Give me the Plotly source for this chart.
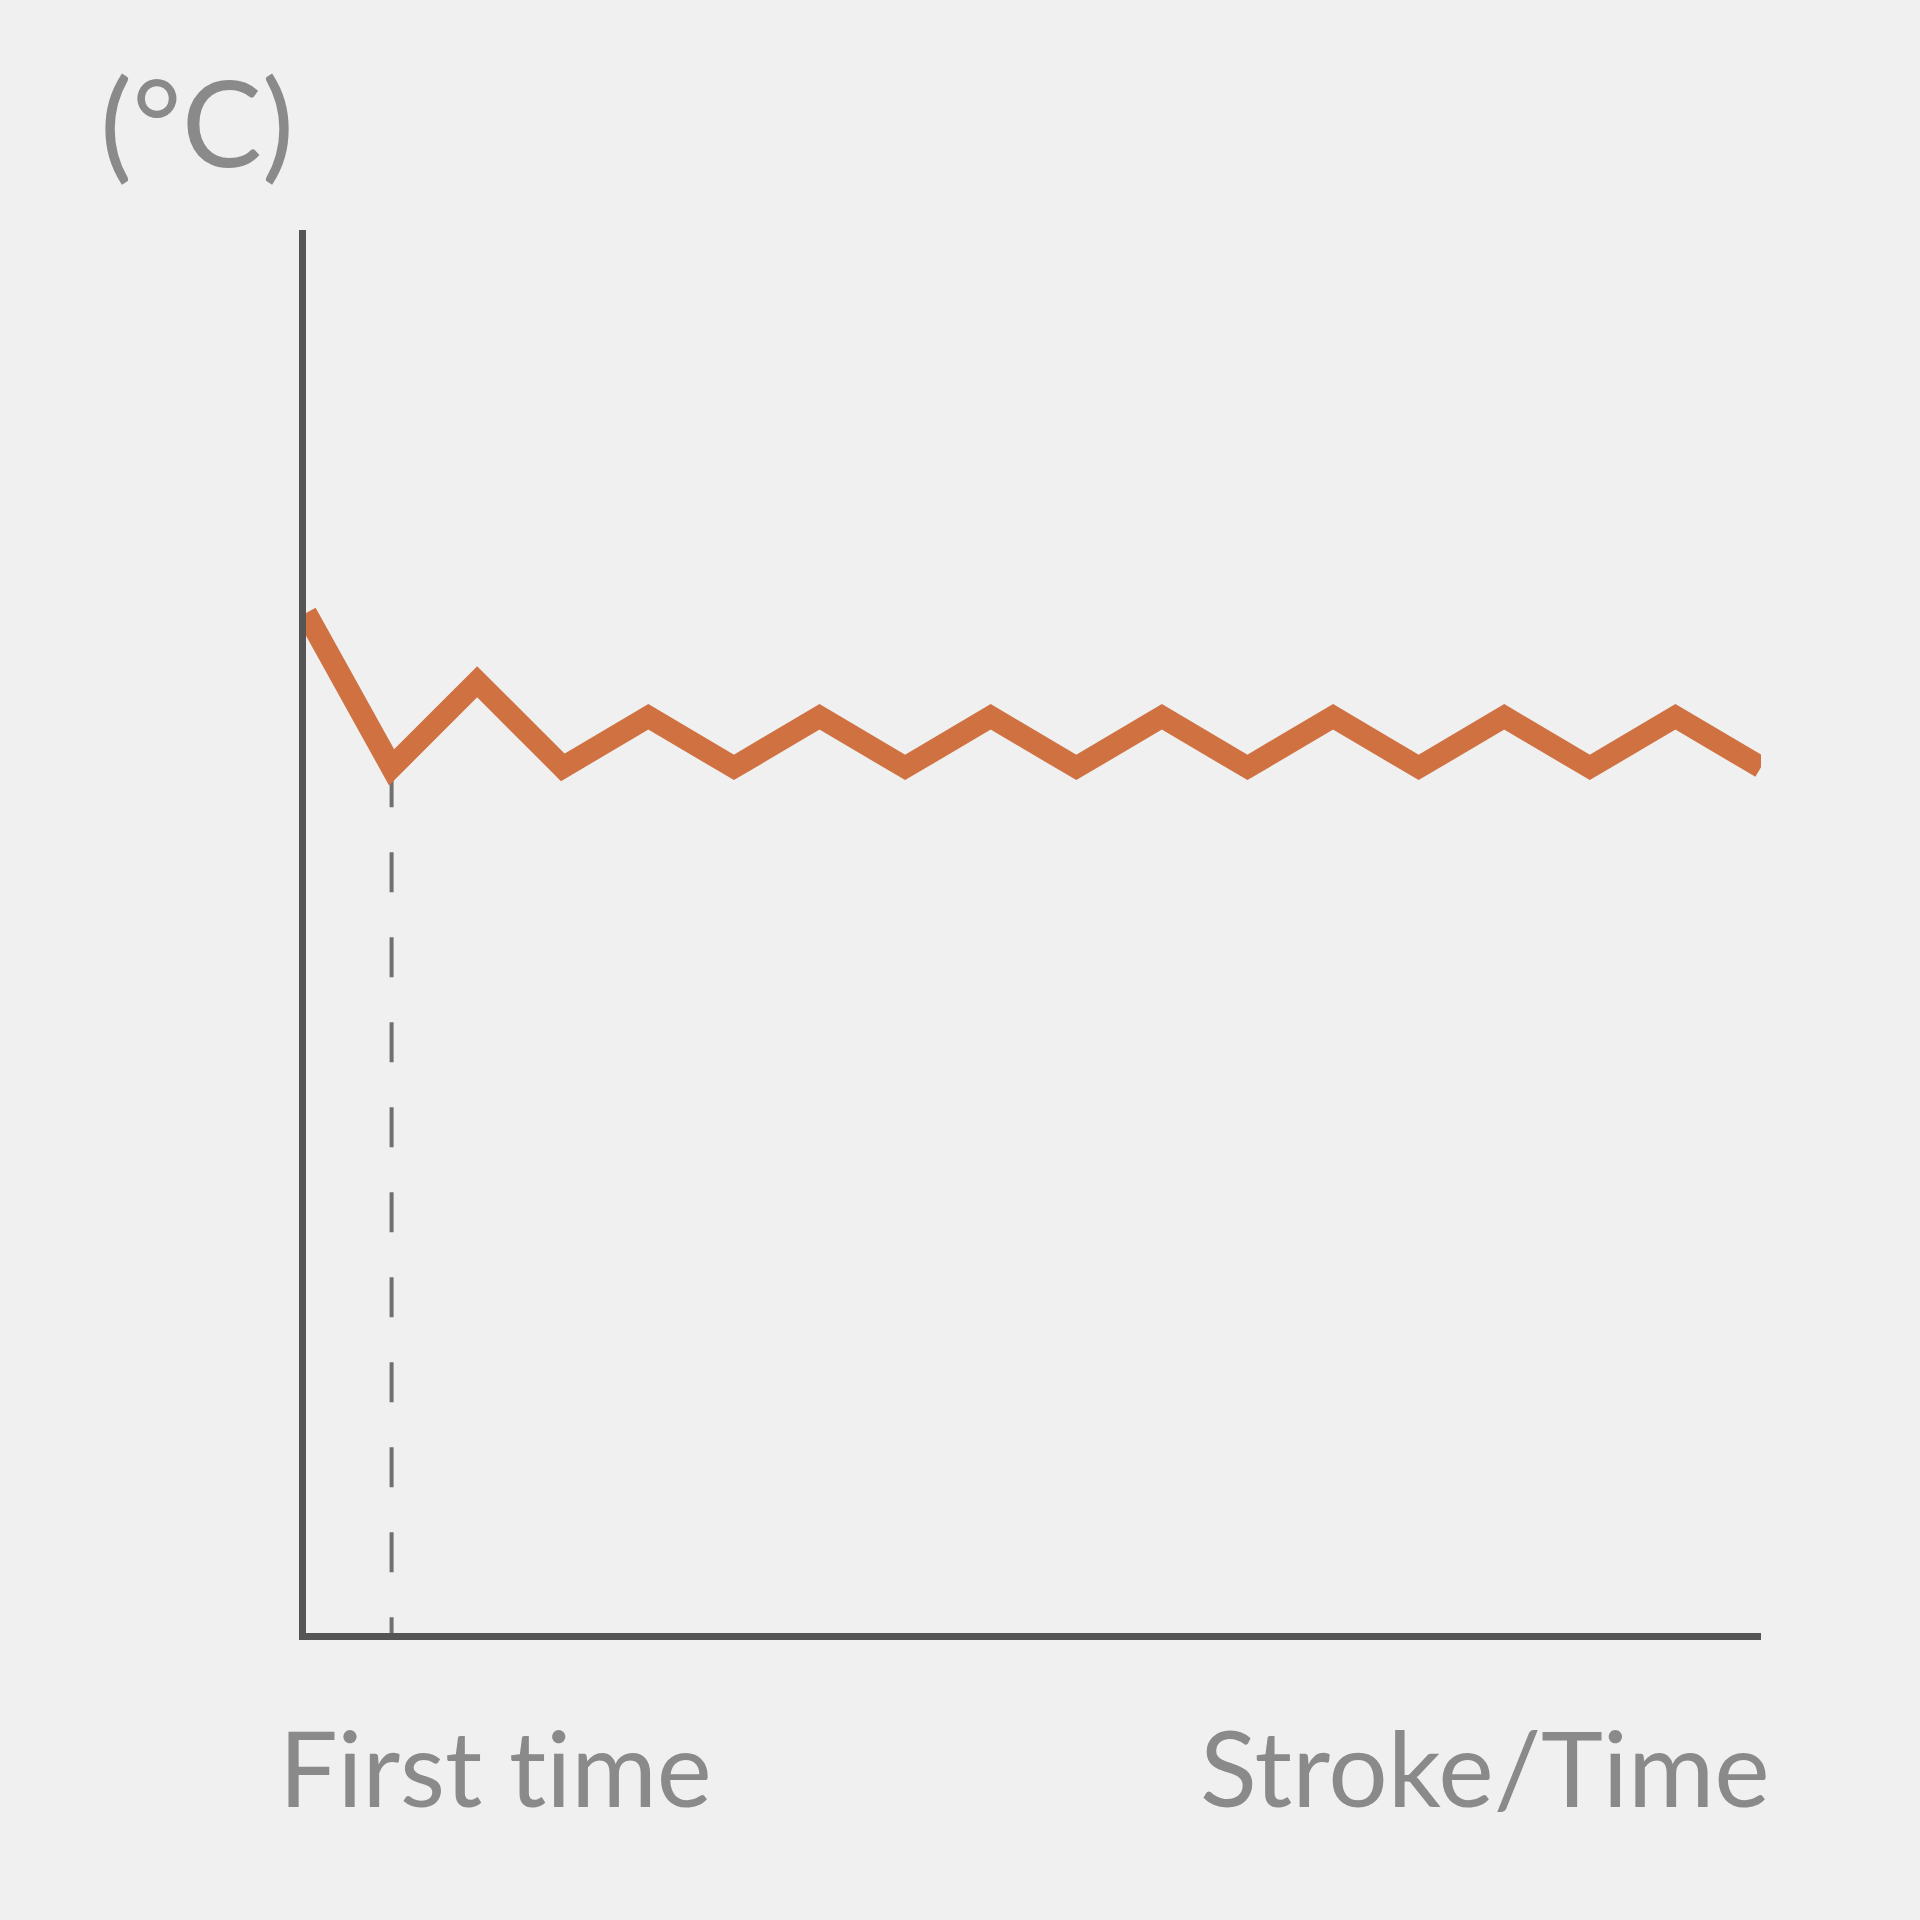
import plotly.graph_objects as go

# Data
stroke_index = list(range(18))
temperature = [72.7, 61.7, 67.8, 61.7, 65.3, 61.7, 65.3, 61.7, 65.3, 61.7,
               65.3, 61.7, 65.3, 61.7, 65.3, 61.7, 65.3, 61.7]
first_time_index = 1
y_unit_label = "(°C)"
x_left_label = "First time"
x_right_label = "Stroke/Time"

W, H = 1920, 1920
L, R, T, B = 306, 159, 230, 287
BG = "#f0f0f0"
AXIS = "#555555"
TEXT = "#8a8a8a"
ORANGE = "#d07142"
FONT = "Lato"

pw, ph = W - L - R, H - T - B


def px_x(x):
    return (x - L) / pw


def px_y(y):
    return (H - B - y) / ph


fig = go.Figure()

# dashed marker at first time (drawn from the curve down to the axis)
fig.add_trace(go.Scatter(
    x=[stroke_index[first_time_index], stroke_index[first_time_index]],
    y=[temperature[first_time_index], 0],
    mode="lines",
    line=dict(color="#707070", width=4, dash="40px,45px"),
    hoverinfo="skip", showlegend=False,
))

fig.add_trace(go.Scatter(
    x=stroke_index, y=temperature, mode="lines",
    line=dict(color=ORANGE, width=22),
    showlegend=False,
))

axis_common = dict(showgrid=False, zeroline=False, showticklabels=False,
                   ticks="", showline=True, linecolor=AXIS, linewidth=7,
                   fixedrange=True)
fig.update_xaxes(range=[0, 17], **axis_common)
fig.update_yaxes(range=[0, 100], **axis_common)

fig.add_annotation(text=y_unit_label, xref="paper", yref="paper",
                   x=px_x(98), y=px_y(121), xanchor="left", yanchor="middle",
                   showarrow=False, font=dict(family=FONT, size=120, color=TEXT))
fig.add_annotation(text=x_left_label, xref="paper", yref="paper",
                   x=px_x(276), y=px_y(1766), xanchor="left", yanchor="middle",
                   showarrow=False, font=dict(family=FONT, size=104, color=TEXT))
fig.add_annotation(text=x_right_label, xref="paper", yref="paper",
                   x=px_x(1772), y=px_y(1766), xanchor="right", yanchor="middle",
                   showarrow=False, font=dict(family=FONT, size=105, color=TEXT))

fig.update_layout(
    width=W, height=H,
    margin=dict(l=L, r=R, t=T, b=B, pad=0),
    paper_bgcolor=BG, plot_bgcolor=BG,
    showlegend=False,
)

page_fix = (
    "document.body.style.margin='0';"
    "document.body.style.background='#f0f0f0';"
    "var s=document.createElement('style');"
    "s.innerHTML='text{font-variant-ligatures:none !important;}';"
    "document.head.appendChild(s);"
)

fig.write_html("out.html", post_script=page_fix,
               config={"displayModeBar": False, "staticPlot": True})
